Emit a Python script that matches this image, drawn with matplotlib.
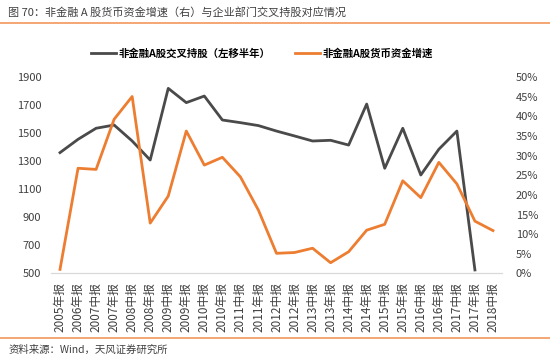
import numpy as np
import matplotlib
matplotlib.use("Agg")
import matplotlib.pyplot as plt
from matplotlib.lines import Line2D

plt.rcParams['font.family'] = ['Noto Sans CJK SC', 'DejaVu Sans']

# 数据
periods = ["2005年报", "2006年报", "2007中报", "2007年报", "2008中报", "2008年报",
           "2009中报", "2009年报", "2010中报", "2010年报", "2011中报", "2011年报",
           "2012中报", "2012年报", "2013中报", "2013年报", "2014中报", "2014年报",
           "2015中报", "2015年报", "2016中报", "2016年报", "2017中报", "2017年报",
           "2018中报"]
cross_holding = [1362, 1457, 1536, 1559, 1445, 1309, 1821, 1719, 1766, 1595,
                 1576, 1555, 1516, 1481, 1445, 1450, 1416, 1709, 1250, 1536,
                 1202, 1386, 1516, 524, np.nan]
cash_growth = [1.0, 26.8, 26.5, 39.3, 45.1, 12.8, 19.7, 36.3, 27.6, 29.6,
               24.6, 16.1, 5.1, 5.3, 6.4, 2.7, 5.5, 11.0, 12.5, 23.6,
               19.3, 28.3, 22.8, 13.3, 10.9]

gray = "#4a4a4a"
orange = "#ed7d31"
txt = "#404040"

fig = plt.figure(figsize=(5.5, 3.59), dpi=100)
ax = fig.add_axes([0.0927, 0.2387, 0.82, 0.546])
ax2 = ax.twinx()

x = np.arange(len(periods))
ax.plot(x, cross_holding, color=gray, lw=2.0, zorder=3)
ax2.plot(x, cash_growth, color=orange, lw=2.0, zorder=2)

ax.set_xlim(-0.5, len(periods) - 0.5)
ax.set_ylim(500, 1900)
ax.set_yticks(range(500, 1901, 200))
ax2.set_ylim(0, 50)
ax2.set_yticks(range(0, 51, 5))
ax2.set_yticklabels([f"{v}%" for v in range(0, 51, 5)])

ax.set_xticks(x)
ax.set_xticklabels(periods, rotation=90, fontsize=8.5, color=txt)
ax.tick_params(axis='x', length=0, pad=6)
ax.tick_params(axis='y', length=0, labelsize=8, labelcolor=txt, pad=7)
ax2.tick_params(axis='y', length=0, labelsize=8, labelcolor=txt, pad=10)

for a in (ax, ax2):
    for s in ["top", "left", "right"]:
        a.spines[s].set_visible(False)
    a.spines["bottom"].set_color("#d9d9d9")

# 图例
handles = [Line2D([], [], color=gray, lw=2.0), Line2D([], [], color=orange, lw=2.0)]
fig.legend(handles, ["非金融A股交叉持股（左移半年）", "非金融A股货币资金增速"],
           loc="center", bbox_to_anchor=(0.476, 0.852), ncol=2, frameon=False,
           prop={'weight': 'bold', 'size': 7.5}, handlelength=2.4,
           handletextpad=0.3, columnspacing=2.3)

# 标题与来源
fig.text(0.015, 0.966, "图 70：非金融 A 股货币资金增速（右）与企业部门交叉持股对应情况",
         fontsize=8, color=txt, va="center", ha="left")
fig.add_artist(Line2D([0, 1], [0.937, 0.937], color=orange, lw=1.2, alpha=0.8))
fig.add_artist(Line2D([0, 1], [0.058, 0.058], color=orange, lw=1.2, alpha=0.8))
fig.text(0.015, 0.025, "资料来源：Wind，天风证券研究所", fontsize=7.5,
         color=txt, va="center", ha="left")

fig.savefig("out.png", dpi=100)
